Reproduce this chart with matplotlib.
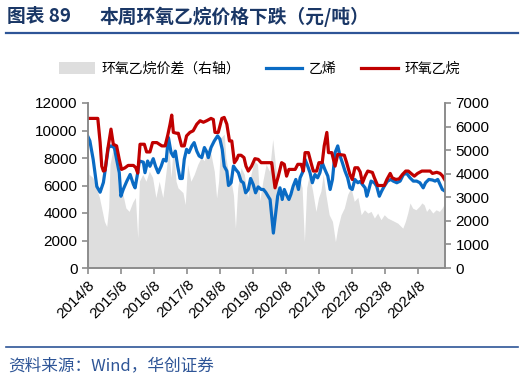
import numpy as np
import matplotlib
matplotlib.use("Agg")
import matplotlib.pyplot as plt
from matplotlib.lines import Line2D
from matplotlib.patches import Patch

plt.rcParams['font.family'] = ['Liberation Sans', 'Noto Sans CJK SC', 'DejaVu Sans']

# dates are decimal years (2014/8 = 2014 + 7/12)
eo_t = [2014.58, 2014.88, 2014.95, 2015.00, 2015.05, 2015.10, 2015.18, 2015.28, 2015.35, 2015.45,
        2015.53, 2015.60, 2015.70, 2015.80, 2015.96, 2016.03, 2016.09, 2016.16, 2016.29, 2016.36,
        2016.46, 2016.54, 2016.67, 2016.82, 2016.92, 2017.00, 2017.07, 2017.12, 2017.17, 2017.27,
        2017.32, 2017.42, 2017.50, 2017.57, 2017.67, 2017.77, 2017.88, 2017.98, 2018.08, 2018.18,
        2018.31, 2018.38, 2018.43, 2018.53, 2018.64, 2018.71, 2018.79, 2018.87, 2018.94, 2019.02,
        2019.09, 2019.14, 2019.22, 2019.31, 2019.37, 2019.44, 2019.54, 2019.64, 2019.74, 2019.83,
        2020.10, 2020.15, 2020.25, 2020.35, 2020.45, 2020.53, 2020.60, 2020.67, 2020.86, 2020.94,
        2021.04, 2021.11, 2021.16, 2021.26, 2021.34, 2021.41, 2021.51, 2021.58, 2021.68, 2021.74,
        2021.82, 2021.87, 2021.97, 2022.07, 2022.15, 2022.35, 2022.42, 2022.52, 2022.59, 2022.67,
        2022.76, 2022.83, 2022.90, 2022.98, 2023.06, 2023.20, 2023.26, 2023.36, 2023.56, 2023.64,
        2023.74, 2023.80, 2023.91, 2024.01, 2024.11, 2024.21, 2024.29, 2024.37, 2024.47, 2024.57,
        2024.70, 2024.95, 2025.02, 2025.15, 2025.25, 2025.32, 2025.40]
eo_price = [10880, 10880, 9150, 7410, 7050, 7100, 8600, 10100, 9000, 8880,
            7900, 7170, 7280, 7460, 7460, 7300, 6900, 9000, 9000, 8440,
            8440, 9120, 9120, 8880, 8880, 9660, 10460, 11120, 9860, 9800,
            9800, 8880, 8880, 9610, 9860, 9980, 10460, 10710, 10600, 10710,
            10880, 10800, 9860, 9860, 10880, 10950, 10460, 9240, 9240, 7660,
            7900, 8200, 8200, 8030, 7410, 7050, 7410, 7950, 7900, 7660,
            7660, 7660, 5830, 6680, 7660, 7540, 6680, 7170, 7170, 7540,
            7540, 7050, 8390, 8390, 7660, 7050, 7050, 7660, 7660, 8880,
            9860, 8390, 8390, 7410, 8270, 8200, 7660, 6800, 6440, 7290,
            7290, 6990, 6200, 6680, 7050, 6950, 6560, 6000, 6000, 6440,
            6880, 6560, 6440, 6480, 6800, 7050, 7050, 6880, 6680, 6880,
            7050, 7050, 6880, 6960, 6880, 6710, 6390]

eth_t = [2014.58, 2014.64, 2014.74, 2014.85, 2014.95, 2015.05, 2015.12, 2015.20, 2015.28, 2015.38,
         2015.45, 2015.53, 2015.58, 2015.65, 2015.76, 2015.86, 2015.96, 2016.01, 2016.09, 2016.14,
         2016.26, 2016.31, 2016.39, 2016.46, 2016.56, 2016.63, 2016.71, 2016.80, 2016.87, 2016.95,
         2017.02, 2017.10, 2017.17, 2017.23, 2017.30, 2017.37, 2017.44, 2017.50, 2017.57, 2017.64,
         2017.73, 2017.80, 2017.88, 2017.95, 2018.03, 2018.11, 2018.18, 2018.23, 2018.31, 2018.41,
         2018.51, 2018.58, 2018.65, 2018.71, 2018.79, 2018.84, 2018.92, 2018.99, 2019.06, 2019.14,
         2019.22, 2019.29, 2019.36, 2019.44, 2019.51, 2019.59, 2019.66, 2019.74, 2019.83, 2019.90,
         2019.97, 2020.10, 2020.20, 2020.27, 2020.33, 2020.40, 2020.47, 2020.53, 2020.60, 2020.67,
         2020.73, 2020.80, 2020.88, 2020.96, 2021.01, 2021.08, 2021.16, 2021.24, 2021.31, 2021.38,
         2021.46, 2021.54, 2021.61, 2021.68, 2021.76, 2021.85, 2021.92, 2021.99, 2022.07, 2022.15,
         2022.22, 2022.29, 2022.37, 2022.45, 2022.52, 2022.59, 2022.67, 2022.76, 2022.83, 2022.90,
         2022.98, 2023.03, 2023.08, 2023.16, 2023.26, 2023.33, 2023.41, 2023.48, 2023.56, 2023.66,
         2023.76, 2023.83, 2023.94, 2024.04, 2024.14, 2024.24, 2024.34, 2024.44, 2024.54, 2024.64,
         2024.74, 2024.81, 2024.91, 2025.02, 2025.10, 2025.18, 2025.25, 2025.32, 2025.40]
eth_price = [9560, 9240, 7900, 5930, 5510, 6220, 7410, 8760, 8880, 8760,
             7900, 6930, 5220, 5710, 6320, 6800, 6070, 5830, 6930, 7780,
             7700, 6930, 7780, 7400, 7950, 7400, 6930, 7400, 7900, 7780,
             9490, 8400, 8100, 8500, 7410, 6510, 6510, 7900, 8630, 8390,
             8880, 9120, 8500, 8150, 8030, 8760, 8440, 8030, 8760, 9240,
             9610, 9370, 8630, 7410, 7050, 6000, 6200, 7410, 7170, 6930,
             6320, 6200, 5470, 5710, 6510, 6070, 5470, 5900, 5710, 5710,
             5500, 4980, 2540, 4000, 5220, 5830, 4980, 5710, 5300, 4980,
             5350, 5950, 6440, 5710, 6560, 6930, 7900, 7410, 6930, 6200,
             6800, 6560, 6930, 7660, 7170, 6680, 5710, 6440, 8390, 8880,
             8150, 7660, 7050, 6560, 5830, 5710, 6440, 6200, 6300, 6070,
             5830, 5220, 5600, 6320, 6200, 5950, 5220, 5590, 5950, 6320,
             6440, 6320, 6200, 6320, 6800, 6880, 6560, 6320, 6320, 6200,
             5830, 6200, 6440, 6400, 6320, 6440, 6070, 5710, 5590]

spread_t = [2014.58, 2014.62, 2014.73, 2014.93, 2015.08, 2015.15, 2015.21, 2015.25, 2015.33, 2015.43,
            2015.48, 2015.53, 2015.63, 2015.73, 2015.83, 2015.94, 2016.02, 2016.09, 2016.14, 2016.24,
            2016.34, 2016.44, 2016.54, 2016.64, 2016.74, 2016.85, 2016.95, 2017.03, 2017.10, 2017.17,
            2017.25, 2017.31, 2017.46, 2017.53, 2017.60, 2017.70, 2017.80, 2017.91, 2018.01, 2018.11,
            2018.21, 2018.31, 2018.41, 2018.48, 2018.54, 2018.61, 2018.71, 2018.76, 2018.85, 2018.92,
            2018.99, 2019.05, 2019.12, 2019.22, 2019.32, 2019.42, 2019.52, 2019.62, 2019.72, 2019.79,
            2019.88, 2019.98, 2020.08, 2020.18, 2020.26, 2020.38, 2020.48, 2020.58, 2020.68, 2020.79,
            2020.89, 2020.99, 2021.07, 2021.14, 2021.21, 2021.29, 2021.39, 2021.49, 2021.57, 2021.64,
            2021.71, 2021.79, 2021.89, 2021.99, 2022.08, 2022.15, 2022.25, 2022.35, 2022.45, 2022.55,
            2022.65, 2022.76, 2022.86, 2022.96, 2023.06, 2023.16, 2023.26, 2023.36, 2023.46, 2023.56,
            2023.66, 2023.76, 2023.86, 2023.97, 2024.07, 2024.12, 2024.20, 2024.27, 2024.34, 2024.42,
            2024.52, 2024.62, 2024.70, 2024.77, 2024.84, 2024.92, 2025.03, 2025.13, 2025.23, 2025.31,
            2025.40]
spread = [5680, 3970, 3840, 2990, 1980, 1760, 2560, 4400, 4960, 4700,
          3680, 2990, 3200, 2550, 2400, 2800, 2990, 1270, 3680, 3970,
          3680, 4110, 3840, 2990, 3680, 2990, 4110, 5120, 3840, 5250,
          3680, 3400, 3200, 2690, 4400, 3680, 3970, 4400, 4680, 4550,
          5110, 4830, 4100, 2970, 3680, 5530, 5680, 4680, 3970, 3680,
          3100, 1690, 3400, 4260, 3970, 2990, 3970, 4540, 4400, 2860,
          3680, 4400, 4110, 5460, 4400, 2990, 2830, 3120, 2990, 3260,
          3680, 3840, 3410, 1120, 3410, 3970, 3260, 2400, 2990, 3260,
          3970, 3120, 2260, 1980, 1120, 1700, 2260, 2550, 3120, 3410,
          2830, 3000, 2260, 2470, 2330, 2400, 2120, 2330, 2050, 2260,
          2120, 2050, 1980, 1900, 1760, 1690, 1980, 2330, 2760, 2540,
          2470, 2610, 2760, 2680, 2400, 2540, 2330, 2470, 2400, 2540,
          2760]

tick_years = list(range(2014, 2025))
tick_labels = [f"{y}/8" for y in tick_years]

fig = plt.figure(figsize=(5.24, 3.82), dpi=100)
ax = fig.add_axes([88/524, 1-268/382, (445-88)/524, (268-103)/382])
ax2 = ax.twinx()

ax2.fill_between(spread_t, spread, 0, color='#dedede', lw=0)
ax.plot(eth_t, eth_price, color='#0a6bc4', lw=2.3, solid_joinstyle='round')
ax.plot(eo_t, eo_price, color='#c00000', lw=2.3, solid_joinstyle='round')

ax.set_zorder(ax2.get_zorder() + 1)
ax.patch.set_visible(False)

ax.set_xlim(2014 + 7/12, 2025.40)
ax.set_ylim(0, 12000)
ax2.set_ylim(0, 7000)
ax.set_yticks(range(0, 12001, 2000))
ax2.set_yticks(range(0, 7001, 1000))
ax.set_xticks([y + 7/12 for y in tick_years])
ax.set_xticklabels(tick_labels, rotation=45, ha='right', rotation_mode='anchor')

spine_c = '#8c8c8c'
for a in (ax, ax2):
    for s in a.spines.values():
        s.set_color(spine_c)
        s.set_linewidth(1.2)
    a.spines['top'].set_visible(False)
    a.tick_params(colors=spine_c, labelcolor='black', labelsize=11, length=4, width=1.2)
ax.tick_params(axis='x', pad=3)

handles = [Patch(facecolor='#dedede', edgecolor='none'),
           Line2D([], [], color='#0a6bc4', lw=2.3),
           Line2D([], [], color='#c00000', lw=2.3)]
labels = ['环氧乙烷价差（右轴）', '乙烯', '环氧乙烷']
fig.legend(handles, labels, loc='center', bbox_to_anchor=(0.495, 1-69/382), ncol=3,
           frameon=False, handlelength=2.6, handleheight=0.9,
           columnspacing=1.8, handletextpad=0.5, prop={'family': ['Noto Sans CJK SC'], 'size': 10})

title_c = '#1a3766'
fig.text(7/524, 1-17/382, '图表 89', fontsize=13.5, fontweight='bold',
         color=title_c, va='center', family=['Noto Sans CJK SC'])
fig.text(100/524, 1-17/382, '本周环氧乙烷价格下跌（元/吨）', fontsize=13.5, fontweight='bold',
         color=title_c, va='center', family=['Noto Sans CJK SC'])
fig.add_artist(Line2D([0.011, 0.989], [1-33/382]*2, color='#2e5597', lw=1.6))
fig.add_artist(Line2D([0.011, 0.989], [1-347/382]*2, color='#2e5597', lw=1.2))
fig.text(8/524, 1-366/382, '资料来源：Wind，华创证券', fontsize=12, color='#2e5597',
         va='center', style='italic', family=['Noto Sans CJK SC'])

fig.savefig('out.png', dpi=100)
